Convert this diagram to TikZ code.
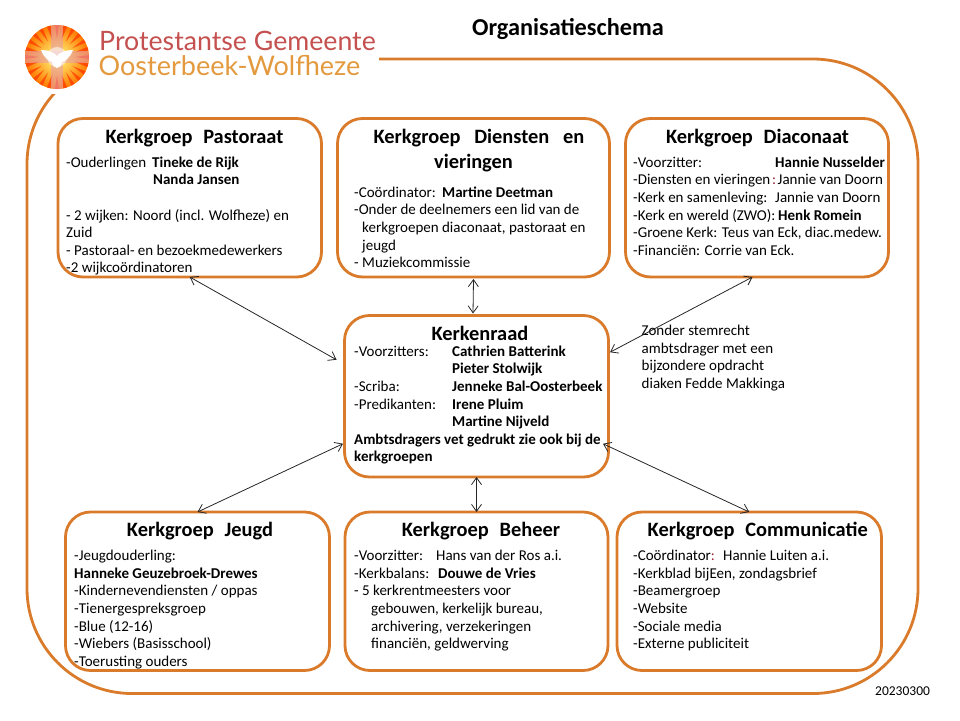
\documentclass[tikz,border=0pt]{standalone}
\usepackage{fontspec}
\setmainfont{Carlito}
\newfontfamily\logofont{Lato}
\usepackage{xcolor}
\usetikzlibrary{arrows.meta,positioning,calc}
\definecolor{kaderoranje}{HTML}{D97B2B}
\definecolor{logorood}{HTML}{C4504F}
\definecolor{logooranje}{HTML}{E39A3E}
\definecolor{dubbelpunt}{HTML}{A02030}
\newcommand{\kol}[2]{\makebox[#1pt][l]{#2}}
\newcommand{\kg}{Kerkgroep\hspace{.3em} }
\begin{document}
\begin{tikzpicture}[x=1pt,y=-1pt,
	groep node/.style={rectangle,rounded corners=25pt,draw=kaderoranje,line width=2.8pt,outer sep=0pt,
		minimum width=264pt,minimum height=158.5pt},
	kop node/.style={anchor=base,inner sep=0pt,font=\fontsize{20.4}{24}\selectfont\bfseries},
	tekst node/.style={anchor=north west,inner sep=0pt,align=left,text=black,
		font=\fontsize{15}{17.6}\selectfont,execute at begin node=\strut},
	pijl/.style={<->,>={Straight Barb[length=7pt,width=10pt]},line width=.8pt,color=black!85}]

    \useasboundingbox (0,0) rectangle (960,720);

    % buitenkader, linksboven afgedekt door het logovlak
    \node[groep node,rounded corners=105pt,minimum width=891pt,minimum height=634.5pt] (kader) at (472.5,376.25) {};
    \node[fill=white,inner sep=0pt,minimum width=360pt,minimum height=60pt] (logovlak) at (199,64) {};

    % logo
    \begin{scope}
	\clip (57,57) circle (32);
	\shade[inner color=yellow!50!white,outer color=orange!95!red] (57,57) circle (32);
	\foreach \a in {0,15,...,345}
		\fill[color=red!60!orange,opacity=.7] ($(57,57)+(\a:18)$) -- ($(57,57)+(\a+3.5:33)$) -- ($(57,57)+(\a-3.5:33)$) -- cycle;
	\fill[color=pink!80!violet,opacity=.55] (51,25) rectangle (63,89);
	\fill[color=pink!80!violet,opacity=.55] (25,51) rectangle (89,63);
	\fill[color=white,opacity=.55] (57,57) circle (10);
    \end{scope}
    \fill[white] (41,50) .. controls (48,50) and (54,52) .. (57,56) .. controls (60,52) and (66,50) .. (73,50)
	.. controls (70,58) and (65,61) .. (62,62) .. controls (61,66) and (59,68) .. (57,68)
	.. controls (55,68) and (53,66) .. (52,62) .. controls (49,61) and (44,58) .. (41,50) -- cycle;
    \node[inner sep=0pt,anchor=base west,text=logorood,font=\fontsize{26.7}{30}\logofont] (logo1) at (99,50.5) {Protestantse Gemeente};
    \node[inner sep=0pt,anchor=base west,text=logooranje,font=\fontsize{27}{30}\logofont] (logo2) at (98.5,75) {Oosterbeek-Wolfheze};

    \node[kop node,font=\fontsize{24.3}{28}\selectfont\bfseries] (titel) at (568,35) {Organisatieschema};

    % kerkgroepen
    \node[groep node,minimum width=263.5pt] (past) at (189.75,197.75) {};
    \node[groep node,minimum width=272pt] (dienst) [right = 16pt of past] {};
    \node[groep node,minimum width=263pt] (dia) [right = 16pt of dienst] {};
    \node[groep node,minimum height=161.5pt] (kerk) at (476.5,396.25) {};
    \node[groep node,minimum width=263pt] (beheer) [below = 35pt of kerk] {};
    \node[groep node] (jeugd) [left = 15.5pt of beheer] {};
    \node[groep node,minimum width=264.5pt] (comm) [right = 9pt of beheer] {};

    \node[kop node] (pastkop) at ([xshift=4.75pt,yshift=-24.5pt]past.north) {\kg Pastoraat};
    \node[tekst node] (pasttekst) at ([xshift=8pt,yshift=-38pt]past.north west) {\kol{86}{-Ouderlingen}\textbf{Tineke de Rijk}\\
	\kol{87}{}\textbf{Nanda Jansen}\\
	\\
	- 2 wijken: Noord (incl. Wolfheze) en\\
	Zuid\\
	- Pastoraal- en bezoekmedewerkers\\
	-2 wijkcoördinatoren};

    \node[kop node] (dienstkop) at ([xshift=5.5pt,yshift=-24.5pt]dienst.north) {Kerkgroep\hspace{.45em} Diensten\hspace{.45em} en};
    \node[kop node] (dienstkop2) at ([yshift=-50pt]dienst.north) {vieringen};
    \node[tekst node] (diensttekst) at ([xshift=16.5pt,yshift=-68pt]dienst.north west) {\kol{88}{-Coördinator:}\textbf{Martine Deetman}\\
	-Onder de deelnemers een lid van de\\
	\kol{8}{}kerkgroepen diaconaat, pastoraat en\\
	\kol{8}{}jeugd\\
	- Muziekcommissie};

    \node[kop node] (diakop) at ([xshift=.5pt,yshift=-24.5pt]dia.north) {\kg Diaconaat};
    \node[tekst node] (diatekst) at ([xshift=7.5pt,yshift=-38pt]dia.north west) {\kol{142}{-Voorzitter:}\textbf{Hannie Nusselder}\\
	\kol{139}{-Diensten en vieringen}{\color{dubbelpunt}:}\hspace{1.5pt}Jannie van Doorn\\
	\kol{142}{-Kerk en samenleving:}Jannie van Doorn\\
	\kol{145}{-Kerk en wereld (ZWO):}\textbf{Henk Romein}\\
	-Groene Kerk: Teus van Eck, diac.medew.\\
	-Financiën: Corrie van Eck.};

    \node[kop node] (kerkkop) at ([xshift=3.5pt,yshift=-24.5pt]kerk.north) {Kerkenraad};
    \node[tekst node] (kerktekst) at ([xshift=9.5pt,yshift=-30pt]kerk.north west) {\kol{98}{-Voorzitters:}\textbf{Cathrien Batterink}\\
	\kol{98}{}\textbf{Pieter Stolwijk}\\
	\kol{98}{-Scriba:}\textbf{Jenneke Bal-Oosterbeek}\\
	\kol{98}{-Predikanten:}\textbf{Irene Pluim}\\
	\kol{98}{}\textbf{Martine Nijveld}\\
	\textbf{Ambtsdragers vet gedrukt zie ook bij de}\\
	\textbf{kerkgroepen}};

    \node[tekst node] (noot) at ([xshift=33pt,yshift=-9.5pt]kerk.north east) {Zonder stemrecht\\
	ambtsdrager met een\\
	bijzondere opdracht\\
	diaken Fedde Makkinga};

    \node[kop node] (jeugdkop) at ([xshift=2.5pt,yshift=-24pt]jeugd.north) {\kg Jeugd};
    \node[tekst node] (jeugdtekst) at ([xshift=8.5pt,yshift=-38pt]jeugd.north west) {-Jeugdouderling:\\
	\textbf{Hanneke Geuzebroek-Drewes}\\
	-Kindernevendiensten / oppas\\
	-Tienergespreksgroep\\
	-Blue (12-16)\\
	-Wiebers (Basisschool)\\
	-Toerusting ouders};

    \node[kop node] (beheerkop) at ([xshift=4.5pt,yshift=-24pt]beheer.north) {\kg Beheer};
    \node[tekst node] (beheertekst) at ([xshift=9pt,yshift=-38pt]beheer.north west) {\kol{82}{-Voorzitter:}Hans van der Ros a.i.\\
	\kol{84}{-Kerkbalans:}\textbf{Douwe de Vries}\\
	- 5 kerkrentmeesters voor\\
	\kol{17}{}gebouwen, kerkelijk bureau,\\
	\kol{17}{}archivering, verzekeringen\\
	\kol{17}{}financiën, geldwerving};

    \node[kop node] (commkop) at ([xshift=8.5pt,yshift=-24pt]comm.north) {\kg Communicatie};
    \node[tekst node] (commtekst) at ([xshift=16pt,yshift=-38pt]comm.north west) {\kol{90}{-Coördinator{\color{dubbelpunt}:}}Hannie Luiten a.i.\\
	-Kerkblad bijEen, zondagsbrief\\
	-Beamergroep\\
	-Website\\
	-Sociale media\\
	-Externe publiciteit};

    \node[inner sep=0pt,anchor=base west,font=\fontsize{13.5}{16}\selectfont] (datum) at (875,695) {20230300};

    \path[pijl]
	(past.south) edge node {} ([xshift=-8pt,yshift=36.5pt]kerk.west)
	([yshift=-2pt]dienst.south) edge node {} ([xshift=-3.5pt,yshift=2pt]kerk.north)
	([xshift=-4.5pt]dia.south) edge node {} ([xshift=1.5pt,yshift=44pt]kerk.east)
	(jeugd.north) edge node {} ([xshift=-1.5pt,yshift=-47.5pt]kerk.west)
	(beheer.north) edge node {} (kerk.south)
	(comm.north) edge node {} ([xshift=-5.5pt,yshift=-47.5pt]kerk.east)
	;

\end{tikzpicture}
\end{document}
